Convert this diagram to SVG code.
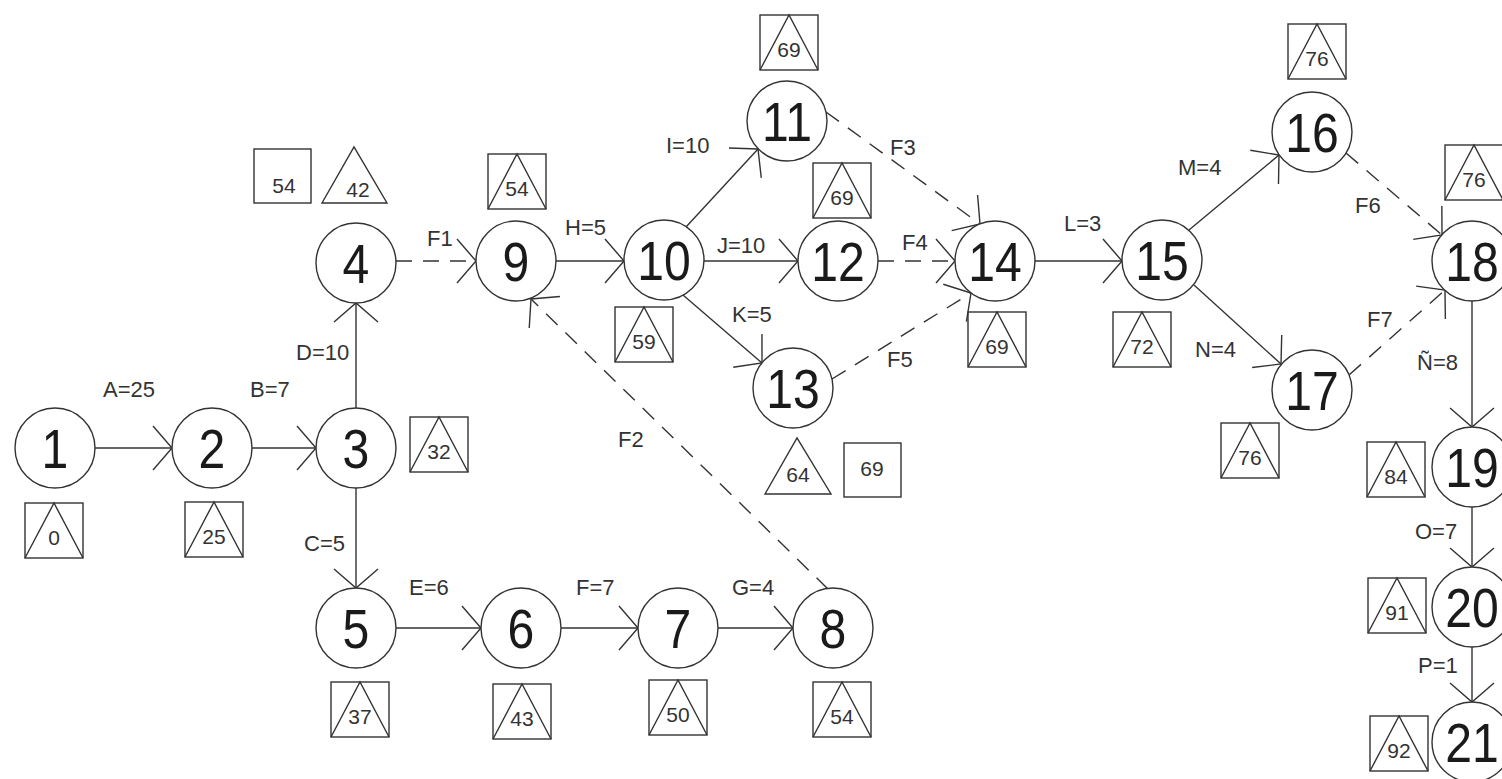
<svg xmlns="http://www.w3.org/2000/svg" xmlns:xlink="http://www.w3.org/1999/xlink" width="1502" height="779" viewBox="0 0 1502 779">
  <style>
    .bg { fill: #ffffff; }
    .node circle { fill: #ffffff; stroke: #333333; stroke-width: 1.4; }
    .num { font-family: "Liberation Sans", Arial, sans-serif; font-size: 56px; fill: #1a1a1a; text-anchor: middle;
           transform-box: fill-box; transform-origin: center; transform: scaleX(0.86); }
    .lbl { font-family: "Liberation Sans", Arial, sans-serif; font-size: 22px; fill: #333333; }
    .val { font-family: "Liberation Sans", Arial, sans-serif; font-size: 21px; fill: #333333; text-anchor: middle; }
    .frame { fill: none; stroke: #333333; stroke-width: 1.4; }
    .edge { fill: none; stroke: #333333; stroke-width: 1.4; marker-end: url(#ah); }
    .dash { stroke-dasharray: 16 11; }
  </style>
  <defs>
    <marker id="ah" markerUnits="userSpaceOnUse" markerWidth="24" markerHeight="50" viewBox="0 0 24 50" refX="21" refY="25" orient="auto">
      <path d="M2,3 L21,25 L2,47" fill="none" stroke="#333333" stroke-width="1.4" stroke-dasharray="none"/>
    </marker>
    <!-- box with inscribed triangle (time marker) -->
    <g id="bt">
      <rect x="0" y="0" width="58" height="55" class="frame"/>
      <polyline points="0,55 29,0 58,55" class="frame"/>
    </g>
  </defs>

  <rect class="bg" x="0" y="0" width="1502" height="779"/>

  <!-- connectors -->
  <g id="connectors">
    <path class="edge" d="M95,448 H172"/>
    <path class="edge" d="M252,448 H316"/>
    <path class="edge" d="M356,408 V303"/>
    <path class="edge" d="M356,488 V588"/>
    <path class="edge dash" d="M396,261 H476"/>
    <path class="edge" d="M396,628 H481"/>
    <path class="edge" d="M561,628 H638"/>
    <path class="edge" d="M718,628 H793"/>
    <path class="edge dash" d="M828,589 L531,299"/>
    <path class="edge" d="M556,261 H624"/>
    <path class="edge" d="M686,227 L758,149"/>
    <path class="edge" d="M704,261 H798"/>
    <path class="edge" d="M683,295 L762,363"/>
    <path class="edge dash" d="M826,112 L980,224"/>
    <path class="edge dash" d="M878,261 H955"/>
    <path class="edge dash" d="M832,379 L971,293"/>
    <path class="edge" d="M1035,261 H1122"/>
    <path class="edge" d="M1189,230 L1279,155"/>
    <path class="edge" d="M1194,285 L1281,364"/>
    <path class="edge dash" d="M1346,153 L1442,235"/>
    <path class="edge dash" d="M1349,375 L1445,290"/>
    <path class="edge" d="M1472,301 V427"/>
    <path class="edge" d="M1472,507 V567"/>
    <path class="edge" d="M1472,647 V702"/>
  </g>

  <!-- activity labels -->
  <g id="labels">
    <text class="lbl" x="103" y="397">A=25</text>
    <text class="lbl" x="250" y="397">B=7</text>
    <text class="lbl" x="296" y="360">D=10</text>
    <text class="lbl" x="304" y="551">C=5</text>
    <text class="lbl" x="409" y="595">E=6</text>
    <text class="lbl" x="576" y="595">F=7</text>
    <text class="lbl" x="732" y="595">G=4</text>
    <text class="lbl" x="427" y="246">F1</text>
    <text class="lbl" x="565" y="235">H=5</text>
    <text class="lbl" x="666" y="153">I=10</text>
    <text class="lbl" x="717" y="253">J=10</text>
    <text class="lbl" x="732" y="322">K=5</text>
    <text class="lbl" x="618" y="447">F2</text>
    <text class="lbl" x="890" y="155">F3</text>
    <text class="lbl" x="902" y="250">F4</text>
    <text class="lbl" x="887" y="367">F5</text>
    <text class="lbl" x="1064" y="231">L=3</text>
    <text class="lbl" x="1178" y="175">M=4</text>
    <text class="lbl" x="1195" y="357">N=4</text>
    <text class="lbl" x="1355" y="213">F6</text>
    <text class="lbl" x="1367" y="327">F7</text>
    <text class="lbl" x="1417" y="370">Ñ=8</text>
    <text class="lbl" x="1415" y="539">O=7</text>
    <text class="lbl" x="1418" y="673">P=1</text>
  </g>

  <!-- nodes -->
  <g id="n1" class="node"><circle cx="55" cy="448" r="40"/><text class="num" x="55" y="468">1</text>
    <use href="#bt" x="25" y="503"/><text class="val" x="54" y="545">0</text></g>
  <g id="n2" class="node"><circle cx="212" cy="448" r="40"/><text class="num" x="212" y="468">2</text>
    <use href="#bt" x="185" y="502"/><text class="val" x="214" y="544">25</text></g>
  <g id="n3" class="node"><circle cx="356" cy="448" r="40"/><text class="num" x="356" y="468">3</text>
    <use href="#bt" x="410" y="417"/><text class="val" x="439" y="459">32</text></g>
  <g id="n4" class="node"><circle cx="356" cy="263" r="40"/><text class="num" x="356" y="283">4</text>
    <rect class="frame" x="254" y="149" width="57" height="54"/><text class="val" x="284" y="193">54</text>
    <polygon class="frame" points="322,203 354,147 387,203"/><text class="val" x="358" y="197">42</text></g>
  <g id="n5" class="node"><circle cx="356" cy="628" r="40"/><text class="num" x="356" y="648">5</text>
    <use href="#bt" x="331" y="682"/><text class="val" x="360" y="724">37</text></g>
  <g id="n6" class="node"><circle cx="521" cy="628" r="40"/><text class="num" x="521" y="648">6</text>
    <use href="#bt" x="493" y="684"/><text class="val" x="522" y="726">43</text></g>
  <g id="n7" class="node"><circle cx="678" cy="628" r="40"/><text class="num" x="678" y="648">7</text>
    <use href="#bt" x="649" y="680"/><text class="val" x="678" y="722">50</text></g>
  <g id="n8" class="node"><circle cx="833" cy="628" r="40"/><text class="num" x="833" y="648">8</text>
    <use href="#bt" x="813" y="682"/><text class="val" x="842" y="724">54</text></g>
  <g id="n9" class="node"><circle cx="516" cy="261" r="40"/><text class="num" x="516" y="281">9</text>
    <use href="#bt" x="488" y="154"/><text class="val" x="517" y="196">54</text></g>
  <g id="n10" class="node"><circle cx="664" cy="260" r="40"/><text class="num" x="664" y="280">10</text>
    <use href="#bt" x="615" y="307"/><text class="val" x="644" y="349">59</text></g>
  <g id="n11" class="node"><circle cx="787" cy="121" r="40"/><text class="num" x="787" y="141">11</text>
    <use href="#bt" x="760" y="15"/><text class="val" x="789" y="57">69</text></g>
  <g id="n12" class="node"><circle cx="838" cy="261" r="40"/><text class="num" x="838" y="281">12</text>
    <use href="#bt" x="813" y="163"/><text class="val" x="842" y="205">69</text></g>
  <g id="n13" class="node"><circle cx="793" cy="388" r="40"/><text class="num" x="793" y="408">13</text>
    <polygon class="frame" points="765,494 797,438 831,494"/><text class="val" x="798" y="482">64</text>
    <rect class="frame" x="844" y="443" width="57" height="54"/><text class="val" x="872" y="476">69</text></g>
  <g id="n14" class="node"><circle cx="995" cy="261" r="40"/><text class="num" x="995" y="281">14</text>
    <use href="#bt" x="968" y="312"/><text class="val" x="997" y="354">69</text></g>
  <g id="n15" class="node"><circle cx="1162" cy="260" r="40"/><text class="num" x="1162" y="280">15</text>
    <use href="#bt" x="1113" y="312"/><text class="val" x="1142" y="354">72</text></g>
  <g id="n16" class="node"><circle cx="1312" cy="132" r="40"/><text class="num" x="1312" y="152">16</text>
    <use href="#bt" x="1288" y="24"/><text class="val" x="1317" y="66">76</text></g>
  <g id="n17" class="node"><circle cx="1312" cy="390" r="40"/><text class="num" x="1312" y="410">17</text>
    <use href="#bt" x="1221" y="423"/><text class="val" x="1250" y="465">76</text></g>
  <g id="n18" class="node"><circle cx="1472" cy="261" r="40"/><text class="num" x="1472" y="281">18</text>
    <use href="#bt" x="1445" y="145"/><text class="val" x="1474" y="187">76</text></g>
  <g id="n19" class="node"><circle cx="1472" cy="467" r="40"/><text class="num" x="1472" y="487">19</text>
    <use href="#bt" x="1367" y="442"/><text class="val" x="1396" y="484">84</text></g>
  <g id="n20" class="node"><circle cx="1472" cy="607" r="40"/><text class="num" x="1472" y="627">20</text>
    <use href="#bt" x="1368" y="578"/><text class="val" x="1397" y="620">91</text></g>
  <g id="n21" class="node"><circle cx="1472" cy="742" r="40"/><text class="num" x="1472" y="762">21</text>
    <use href="#bt" x="1370" y="716"/><text class="val" x="1399" y="758">92</text></g>
</svg>
